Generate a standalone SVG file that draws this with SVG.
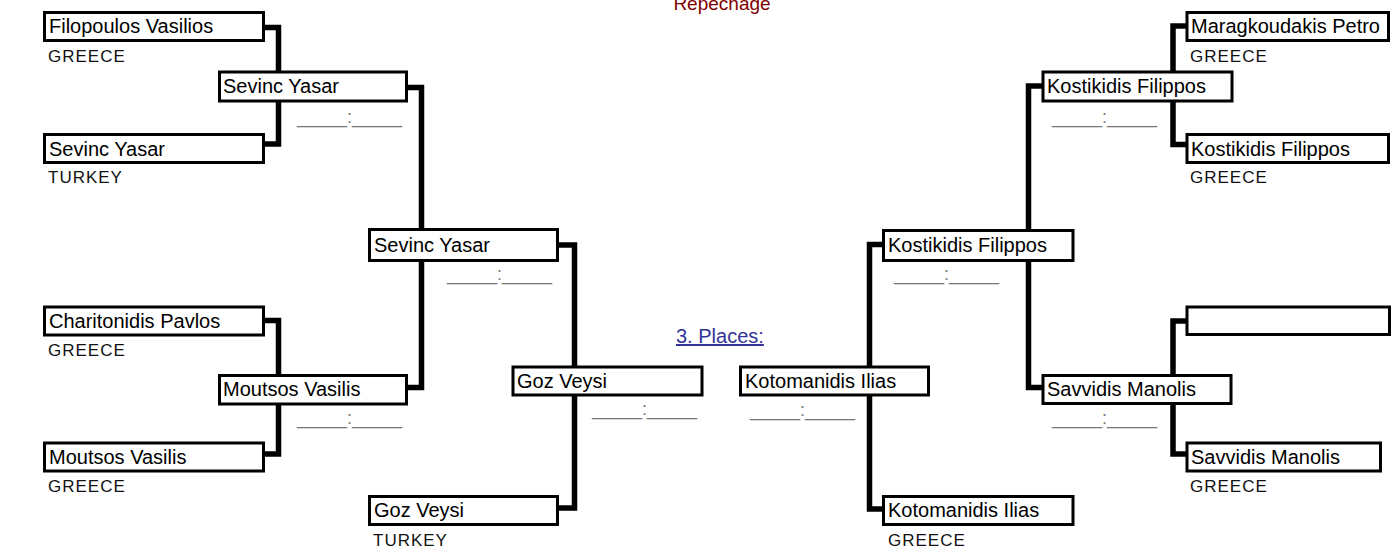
<svg xmlns="http://www.w3.org/2000/svg" width="1400" height="547" viewBox="0 0 1400 547">
<style>
.box{fill:#fff;stroke:#000;stroke-width:3}
.nm{font-family:"Liberation Sans",Arial,sans-serif;font-size:20px;fill:#000}
.ct{font-family:"Liberation Sans",Arial,sans-serif;font-size:17px;letter-spacing:1px;fill:#111}
.sc{font-family:"Liberation Sans",Arial,sans-serif;font-size:18px;fill:#777}
.con{fill:none;stroke:#000;stroke-width:5.5;stroke-linejoin:miter}
</style>
<rect width="1400" height="547" fill="#fff"/>
<text x="722" y="10" text-anchor="middle" font-family="Liberation Sans, Arial, sans-serif" font-size="19" fill="#800000">Repechage</text>
<text x="676" y="343" font-family="Liberation Sans, Arial, sans-serif" font-size="20" fill="#333399" text-decoration="underline">3. Places:</text>
<g id="connectors">
<path class="con" d="M264,27.5 H278.5 V144 H264"/>
<path class="con" d="M264,320.5 H278.5 V454 H264"/>
<path class="con" d="M407,87.5 H421.5 V387.5 H407"/>
<path class="con" d="M558,245 H574.5 V508 H558"/>
<path class="con" d="M1187,26 H1173 V144.5 H1187"/>
<path class="con" d="M1187,321 H1173 V454 H1187"/>
<path class="con" d="M1043,86 H1028.5 V387.5 H1043"/>
<path class="con" d="M884,244.5 H869.5 V509 H884"/>
</g>
<g id="n-filopoulos"><rect class="box" x="44.5" y="12.5" width="219" height="28"/><text class="nm" x="49" y="33">Filopoulos Vasilios</text><text class="ct" x="48" y="61.5">GREECE</text></g>
<g id="n-sevinc-r1"><rect class="box" x="44.5" y="134.5" width="219" height="28"/><text class="nm" x="49" y="155.5">Sevinc Yasar</text><text class="ct" x="48" y="183">TURKEY</text></g>
<g id="n-charitonidis"><rect class="box" x="44.5" y="307" width="219" height="28"/><text class="nm" x="49" y="327.5">Charitonidis Pavlos</text><text class="ct" x="48" y="356">GREECE</text></g>
<g id="n-moutsos-r1"><rect class="box" x="44.5" y="443" width="219" height="28"/><text class="nm" x="49" y="463.5">Moutsos Vasilis</text><text class="ct" x="48" y="492">GREECE</text></g>
<g id="n-sevinc-r2"><rect class="box" x="219.5" y="72" width="187" height="29"/><text class="nm" x="223" y="92.5">Sevinc Yasar</text><text class="sc" x="297" y="123">_____:_____</text></g>
<g id="n-moutsos-r2"><rect class="box" x="219.5" y="375.5" width="187" height="28.5"/><text class="nm" x="223" y="396">Moutsos Vasilis</text><text class="sc" x="297" y="423.5">_____:_____</text></g>
<g id="n-sevinc-r3"><rect class="box" x="369.5" y="229.5" width="188" height="31"/><text class="nm" x="374" y="251.5">Sevinc Yasar</text><text class="sc" x="447" y="280">_____:_____</text></g>
<g id="n-goz-r4"><rect class="box" x="513" y="367" width="189" height="28"/><text class="nm" x="517" y="388">Goz Veysi</text><text class="sc" x="592" y="415">_____:_____</text></g>
<g id="n-goz-r1"><rect class="box" x="369.5" y="496.5" width="188" height="28"/><text class="nm" x="374" y="517">Goz Veysi</text><text class="ct" x="373" y="545.5">TURKEY</text></g>
<g id="n-maragkoudakis"><rect class="box" x="1187" y="12.5" width="201.5" height="28"/><text class="nm" x="1191" y="33">Maragkoudakis Petro</text><text class="ct" x="1190" y="61.5">GREECE</text></g>
<g id="n-kostikidis-r1"><rect class="box" x="1187" y="134.5" width="201.5" height="28"/><text class="nm" x="1191" y="155.5">Kostikidis Filippos</text><text class="ct" x="1190" y="183">GREECE</text></g>
<g id="n-empty"><rect class="box" x="1187" y="307" width="202.5" height="27.5"/></g>
<g id="n-savvidis-r1"><rect class="box" x="1187" y="443" width="193.5" height="28"/><text class="nm" x="1191" y="463.5">Savvidis Manolis</text><text class="ct" x="1190" y="492">GREECE</text></g>
<g id="n-kostikidis-r2"><rect class="box" x="1043" y="72" width="189" height="29"/><text class="nm" x="1047" y="92.5">Kostikidis Filippos</text><text class="sc" x="1052" y="123">_____:_____</text></g>
<g id="n-savvidis-r2"><rect class="box" x="1043" y="375.5" width="188" height="28"/><text class="nm" x="1047" y="396">Savvidis Manolis</text><text class="sc" x="1052" y="423.5">_____:_____</text></g>
<g id="n-kostikidis-r3"><rect class="box" x="883.5" y="230.5" width="189.5" height="30"/><text class="nm" x="888" y="251.5">Kostikidis Filippos</text><text class="sc" x="894" y="280">_____:_____</text></g>
<g id="n-kotomanidis-r4"><rect class="box" x="740.5" y="367" width="188" height="28"/><text class="nm" x="745" y="388">Kotomanidis Ilias</text><text class="sc" x="750" y="416">_____:_____</text></g>
<g id="n-kotomanidis-r1"><rect class="box" x="883.5" y="496.5" width="189.5" height="28"/><text class="nm" x="888" y="517">Kotomanidis Ilias</text><text class="ct" x="888" y="545.5">GREECE</text></g>
</svg>
